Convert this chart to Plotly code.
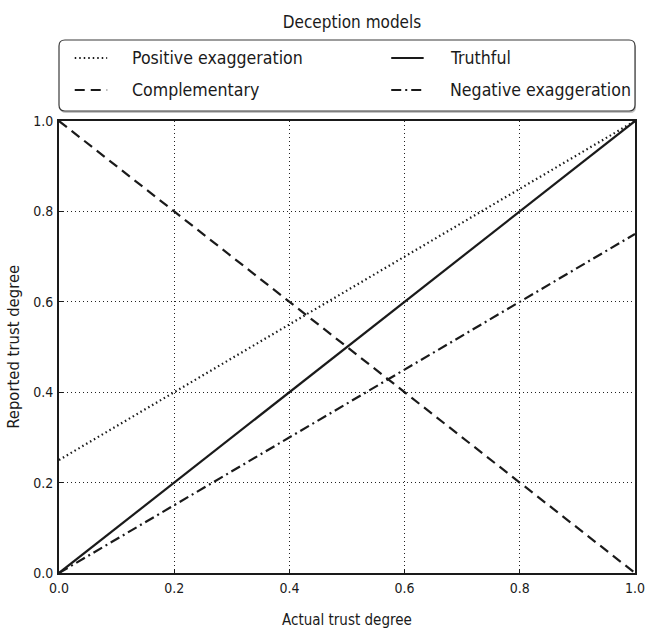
import plotly.graph_objects as go

# Actual trust degree (x) and the reported trust under each deception model
actual = [0.0, 1.0]
positive_exaggeration = [0.25, 1.0]
truthful = [0.0, 1.0]
complementary = [1.0, 0.0]
negative_exaggeration = [0.0, 0.75]

tick_vals = [0.0, 0.2, 0.4, 0.6, 0.8, 1.0]
tick_text = ["0.0", "0.2", "0.4", "0.6", "0.8", "1.0"]

FONT = "DejaVu Sans Condensed, Liberation Sans Narrow, Roboto, sans-serif"
INK = "#1a1a1a"

W, H = 654, 628
L, R, T, B = 59, 9, 121, 55
PW, PH = W - L - R, H - T - B


def px(x):
    """Pixel column -> paper x."""
    return (x - L) / PW


def py(y):
    """Pixel row -> paper y."""
    return (H - B - y) / PH


DASH = {
    "dotted": "1.5px,3px",
    "solid": "solid",
    "dashed": "10px,6px",
    "dashdot": "10px,4px,2px,4px",
}

series = [
    ("Positive exaggeration", positive_exaggeration, "dotted"),
    ("Truthful", truthful, "solid"),
    ("Complementary", complementary, "dashed"),
    ("Negative exaggeration", negative_exaggeration, "dashdot"),
]

fig = go.Figure()
for name, ys, style in series:
    fig.add_trace(go.Scatter(
        x=actual, y=ys, mode="lines", name=name,
        line=dict(color=INK, width=2.2, dash=DASH[style]),
        cliponaxis=False, showlegend=False,
    ))

axis_common = dict(
    range=[0, 1],
    tickvals=tick_vals,
    ticktext=tick_text,
    showgrid=True,
    gridcolor="#222222",
    gridwidth=1,
    griddash="1px,3px",
    showline=True,
    linecolor=INK,
    linewidth=2,
    mirror=True,
    ticks="inside",
    ticklen=4,
    tickcolor=INK,
    zeroline=False,
    ticklabelstandoff=1,
    tickfont=dict(family=FONT, size=14, color=INK),
)
fig.update_xaxes(**axis_common)
fig.update_yaxes(**axis_common)

shapes = []
annotations = []


def rounded_rect(x0, y0, x1, y1, r):
    """Closed path (paper coords) for a rounded box given in pixels."""
    pts = [
        f"M {px(x0 + r)},{py(y0)}",
        f"L {px(x1 - r)},{py(y0)}",
        f"Q {px(x1)},{py(y0)} {px(x1)},{py(y0 + r)}",
        f"L {px(x1)},{py(y1 - r)}",
        f"Q {px(x1)},{py(y1)} {px(x1 - r)},{py(y1)}",
        f"L {px(x0 + r)},{py(y1)}",
        f"Q {px(x0)},{py(y1)} {px(x0)},{py(y1 - r)}",
        f"L {px(x0)},{py(y0 + r)}",
        f"Q {px(x0)},{py(y0)} {px(x0 + r)},{py(y0)}",
        "Z",
    ]
    return " ".join(pts)


# Legend frame with a soft drop shadow
shapes.append(dict(type="path", xref="paper", yref="paper",
                   path=rounded_rect(60, 42, 646, 113, 6),
                   fillcolor="#c4c4c4", line=dict(width=0), layer="above"))
shapes.append(dict(type="path", xref="paper", yref="paper",
                   path=rounded_rect(59, 40, 645, 111, 6),
                   fillcolor="white", line=dict(color="#3a3a3a", width=1.2), layer="above"))

# Legend entries: two columns, two rows
entry_pos = {
    "Positive exaggeration": (75, 131, 58),
    "Truthful": (397, 455, 58),
    "Complementary": (75, 131, 90),
    "Negative exaggeration": (397, 455, 90),
}
for name, _, style in series:
    x0, xt, yy = entry_pos[name]
    shapes.append(dict(type="line", xref="paper", yref="paper",
                       x0=px(x0), x1=px(x0 + 33), y0=py(yy), y1=py(yy),
                       line=dict(color=INK, width=2.2, dash=DASH[style]),
                       layer="above"))
    annotations.append(dict(text=name, xref="paper", yref="paper",
                            x=px(xt), y=py(yy), xanchor="left", yanchor="middle",
                            showarrow=False,
                            font=dict(family=FONT, size=17.6, color=INK)))

# Axis titles
annotations.append(dict(text="Actual trust degree", xref="paper", yref="paper",
                        x=0.5, y=py(620), xanchor="center", yanchor="middle",
                        showarrow=False, font=dict(family=FONT, size=15, color=INK)))
annotations.append(dict(text="Reported trust degree", xref="paper", yref="paper",
                        x=px(12), y=0.5, xanchor="center", yanchor="middle",
                        textangle=-90, showarrow=False,
                        font=dict(family=FONT, size=16.5, color=INK)))

fig.update_layout(
    width=W,
    height=H,
    margin=dict(l=L, r=R, t=T, b=B),
    paper_bgcolor="white",
    plot_bgcolor="white",
    font=dict(family=FONT, color=INK),
    title=dict(
        text="Deception models",
        x=(L + PW / 2) / W, xanchor="center",
        y=1 - 22 / H, yanchor="middle",
        font=dict(family=FONT, size=17, color=INK),
    ),
    shapes=shapes,
    annotations=annotations,
    showlegend=False,
)

fig.write_html("out.html")
